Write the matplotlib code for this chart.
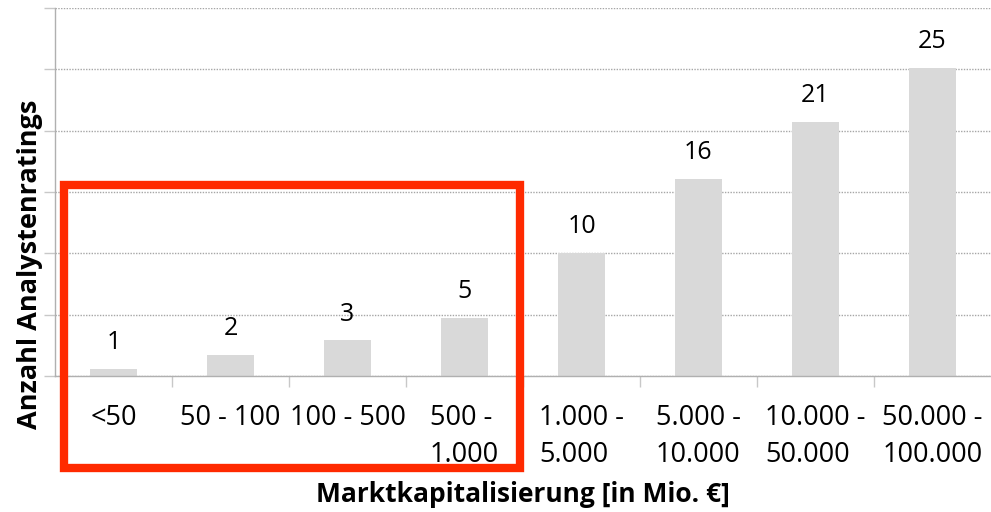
import matplotlib
matplotlib.use("Agg")
import matplotlib.pyplot as plt
from matplotlib.patches import Rectangle

plt.rcParams['font.family'] = ['Open Sans', 'DejaVu Sans']

# ---- Daten ----
kategorien = ['<50', '50 - 100', '100 - 500', '500 -\n1.000', '1.000 -\n5.000',
              '5.000 -\n10.000', '10.000 -\n50.000', '50.000 -\n100.000']
werte = [0.6, 1.7, 2.9, 4.7, 10.0, 16.1, 20.7, 25.1]
beschriftung = ['1', '2', '3', '5', '10', '16', '21', '25']

W, H = 991, 512
fig = plt.figure(figsize=(W / 100, H / 100), dpi=100)
ax = fig.add_axes([55 / W, 1 - 376 / H, 1 - 55 / W, (376 - 8) / H])

x = list(range(len(kategorien)))
bars = ax.bar(x, werte, width=0.4, color='#D9D9D9', zorder=2)
for b, txt in zip(bars, beschriftung):
    ax.annotate(txt, (b.get_x() + b.get_width() / 2, b.get_height()),
                xytext=(0, 10), textcoords='offset points',
                ha='center', va='bottom', fontsize=18, color='black')

ax.set_xlim(-0.5, len(kategorien) - 0.5)
ax.set_ylim(0, 30)

# Gitter (gepunktet)
ax.set_yticks(range(0, 31, 5))
ax.set_yticklabels([])
ax.yaxis.grid(True, linestyle=(0, (1, 1)), color='#A6A6A6', linewidth=1, zorder=0)
ax.tick_params(axis='y', length=8, color='#C8C8C8', width=1)

ax.set_xticks(x)
ax.set_xticklabels(kategorien, fontsize=19.5, multialignment='left', linespacing=1.42)
ax.set_xticks([i + 0.5 for i in x[:-1]], minor=True)
ax.tick_params(axis='x', which='major', length=0, pad=20)
ax.tick_params(axis='x', which='minor', length=8, color='#C8C8C8', width=1)

for side in ['top', 'right']:
    ax.spines[side].set_visible(False)
for side in ['left', 'bottom']:
    ax.spines[side].set_linestyle((0, (1, 1)))
    ax.spines[side].set_color('#B0B0B0')
    ax.spines[side].set_linewidth(1)

# Achsentitel
fig.text(30 / W, 1 - 264 / H, 'Anzahl Analystenratings', rotation=90,
         ha='center', va='center', fontsize=19.5, fontweight='bold')
fig.text(523 / W, 1 - 495 / H, 'Marktkapitalisierung [in Mio. €]',
         ha='center', va='center', fontsize=19, fontweight='bold')

# roter Rahmen
l, r, t, btm = 64, 519.5, 184.5, 467.5
fig.patches.append(Rectangle((l / W, 1 - btm / H), (r - l) / W, (btm - t) / H,
                             transform=fig.transFigure, fill=False,
                             edgecolor='#FF2A00', linewidth=6, zorder=10))

fig.savefig('out.png', dpi=100)
